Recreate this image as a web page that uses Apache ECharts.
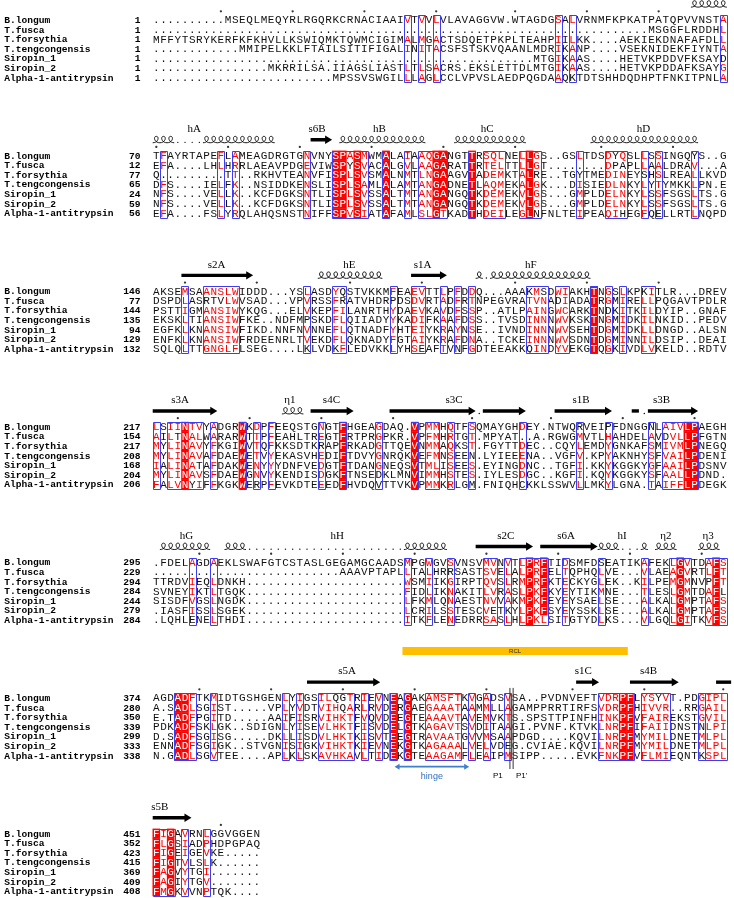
<!DOCTYPE html>
<html><head><meta charset="utf-8">
<script src="https://cdn.jsdelivr.net/npm/echarts@6/dist/echarts.min.js"></script>
<style>html,body{margin:0;padding:0;background:#fff}#c{width:734px;height:898px}</style>
</head><body><div id="c"></div>
<script>
// ---------------- DATA ----------------
const seqNames = ['B.longum','T.fusca','T.forsythia','T.tengcongensis','Siropin_1','Siropin_2','Alpha-1-antitrypsin'];

const startNum1 = [1,1,1,1,1,1,1];
const seqBlock1 = [
'..........MSEQLMEQYRLRGQRKCRNACIAAIVTVVLVLAVAGGVW.WTAGDGSALVRNMFKPKATPATQPVVNSTA',
'..........'+'..........'+'..........'+'..........'+'..........'+'..........'+'.........'+'MSGGFLRDDHL',
'MFFYTSRYKERFKFKHVLLKSWIQMKTQWMCIGIMALMGACTSDQETPKPLTEAHPIILKK....AEKIEKDNAFAFDLL',
'..........'+'..'+'MMIPELKKLFTAILSITIFIGALINITACSFSTSKVQAANLMDRIKANP....VSEKNIDEKFIYNTA',
'..........'+'..........'+'..........'+'..........'+'..........'+'...'+'MTGIKAAS....HETVKPDDVFKSAYD',
'..........'+'......'+'MKRRILSA.IIAGSLIASTLTLSACRS.EKSLETTDLMTGIKAAS....HETVKPDDAFKSAYG',
'..........'+'..........'+'.....'+'MPSSVSWGILLLAGLCCLVPVSLAEDPQGDAAQKTDTSHHDQDHPTFNKITPNLA'
];
const boxRuns1 = [[35,35],[37,37],[39,39],[56,56],[58,58],[79,79]];
const partialRed1 = [];
const ssElems1 = [['h',75,79]];
const ssLabels1 = [];

const startNum2 = [70,12,77,65,24,59,56];
const seqBlock2 = [
'TFAYRTAPEFLAMEAGDRGTGNVNYSPASMWMALAIAAQGANGTTRSQLNELLGS..GSLTDSDYQSLLSSINGQYS..G',
'EFA....LHLHRRLAEAVPDGEVIWSPYSVACALGVLAAGARATTRTELTTLLGT........DPAPLLAALDRAV...A',
'Q.........TT..RKHVTEANVFISPLSVSMALNMTLNGAAGVTADEMKTALRE..TGYTMEDINEYSHSLREALLKVD',
'DFS....IELFK..NSIDDKENSLISPLSAMLALAMTANGADNETLAQMEKALGK...DISIEDLNKYLYTYMKKLPN.E',
'NFS....VELLK..KCFDGKSNTLISPLSVSSALTMTANGANGQTKDEMEKVLGS...GMPLDELNKYLSSFSGSLTS.G',
'NFS....VELLK..KCFDGKSNTLISPLSVSSALTMTANGANGQTKDEMEKVLGS...GMPLDELNKYLSSFSGSLTS.G',
'EFA....FSLYRQLAHQSNSTNIFFSPVSIATAFAMLSLGTKADTHDEILEGLNFNLTEIPEAQIHEGFQELLRTLNQPD'
];
const boxRuns2 = [[1,1],[9,9],[11,11],[21,21],[25,29],[32,32],[35,35],[37,40],[44,44],[46,48],[51,53],[59,59],[63,65],[68,68],[70,70],[75,75]];
const partialRed2 = [40];
const ssElems2 = [['h',0,2],['d',3,6],['h',7,16],['e',22,24],['h',26,37],['h',42,51],['h',61,75]];
const ssLabels2 = [['hA',5.3],['s6B',22.4],['hB',31.1],['hC',46.1],['hD',67.9]];

const startNum3 = [146,77,144,135,94,129,132];
const seqBlock3 = [
'AKSEMSAANSLWIDDD...YSLASDYQSTVKKMFEAEVTTLPFDDQ...AAAKMSDWIAKHTNGSLKPKITLR...DREV',
'DSPDLASRTVLWVSAD...VPVRSSFRATVHDRPDSDVRTADFRTNPEGVRATVNADIADATRGMIRELLPQGAVTPDLR',
'PSTTIGMANSIWYKQG...ELVKEPFILANRTHYDAEVKAVDFSSP..ATLPAINGWCARKTNDKITKILDYIP..GNAF',
'EKSKLTIANSIWFKE..NDFMPSKDFLQIIADYYKADIFKAAFDSS..TVSDINNNWVKSKTNGMIDKILNKID..PEDV',
'EGFKLKNANSIWFIKD.NNFNVNNEFLQTNADFYHTEIYKRAYNSE..IVNDINNNWVSEHTDGMIDKLLDNGD..ALSN',
'ENFKLKNANSIWFRDEENRLTVEKDFLQKNADYFGTAIYKRAFDNA..TCKEINNNWVSDNTDGMINNILDSIP..DEAI',
'SQLQLTTGNGLFLSEG....LKLVDKFLEDVKKLYHSEAFTVNFGDTEEAKKQINDYVEKGTQGKIVDLVKELD..RDTV'
];
const boxRuns3 = [[4,4],[7,11],[21,21],[25,26],[33,33],[36,37],[40,40],[42,42],[44,44],[52,54],[56,57],[61,61],[63,63],[65,65],[68,69]];
const partialRed3 = [];
const ssElems3 = [['e',4,13],['h',23,31],['e',36,40],['h',45,45],['d',46,46],['h',47,60]];
const ssLabels3 = [['s2A',8.4],['hE',26.9],['s1A',37.1],['hF',52.2]];

const startNum4 = [217,154,217,208,168,204,206];
const seqBlock4 = [
'LSIINTVYADGRWKDPFEEQSTGNGTFHGEAGDAQ.VPMMHQTFSQMAYGHDEY.NTWQRVEIPFDNGGNLAIVLPAEGH',
'AILTNALWARARWTTPFEAHLTREGTFRTPRGPKR.VPFMHRTGT.MPYAT..A.RGWGMVTLHAHDELAVDVLLPFGTN',
'MYLINAVYFKGIWVTQFKKSDTKRAPFRKADGTTQEVNMMAQKST.FGYTTDEC..CQYLEMDYGNKAFSMIVMLPNEGQ',
'MYLINAVAFDAEWETVYEKASVHEDIFTDVYGNRQKVEFMNSEEN.LYIEEENA..VGFV.KPYAKNHYSFVAILPDENI',
'IALINATAFDAKWENYYYDNFVEDGTFTDANGNEQSVTMLISEES.EYINGDNC..TGFI.KKYKGGKYGFAAILPDSNV',
'MYLINAVSFDAEWGNVYKENDISDGKFTNSEDKLMNVIMMHSTES.IYLESDGC..KGFI.KQYKGGKYSFAALLPDND.',
'FALVNYIFFKGKWERPFEVKDTEEEDFHVDQVTTVKVPMMKRLGM.FNIQHCKKLSSWVLLMKYLGNA.TAIFFLPDEGK'
];
const boxRuns4 = [[0,0],[2,6],[8,8],[12,12],[14,14],[16,16],[23,23],[26,26],[31,31],[36,36],[38,39],[41,41],[44,44],[51,51],[59,59],[63,63],[69,69],[71,75]];
const partialRed4 = [];
const ssElems4 = [['e',0,8],['h',18,20],['e',22,27],['e',33,44],['d',45,45],['e',46,51],['e',56,63],['b',66.75,66.75],['d',68,68],['e',69,75]];
const ssLabels4 = [['s3A',3.3],['η1',18.6],['s4C',24.4],['s3C',41.5],['s1B',59.2],['s3B',70.4]];

const startNum5 = [295,229,294,284,244,279,284];
const seqBlock5 = [
'.FDELAGDAEKLSWAFGTCSTASLGEGAMGCAADSMPGWGVSVNSVMVNVTLPRFTIDSMFDSEATIKAFEKLGVTDAFS',
'..........'+'..........'+'......'+'AAAVPTAPLLTALHRRSASTSVELALPRFELTQPHQLVE...VLAEAGVRTLFT',
'TTRDVIEQLDNKH'+'..........'+'..........'+'..'+'WSMIIKGIRPTQVSLRMPRFKTECKYGLEK..KILPEMGMNVPFT',
'SVNEYIKTLTGQK'+'..........'+'..........'+'..'+'FIDLIKNAKITLVRASLPKFKYEYTIKMNE...TLESLGMTDAFL',
'SISDFVGSLNGDK'+'..........'+'..........'+'..'+'LFKMLQNAESTNVVAKMPKFEYEYSAELSE...ALKALGMPTAFS',
'.IASFISSLSGEK'+'..........'+'..........'+'..'+'LCRILSSTESCVETKYLPKFSYEYSSKLSE...ALKALGMPTAFS',
'.LQHLENELTHDI'+'..........'+'..........'+'..'+'ITKFLENEDRRSASLHLPKLSITGTYDLKS...VLGQLGITKVFS'
];
const boxRuns5 = [[5,5],[8,8],[35,35],[38,38],[41,41],[46,47],[49,49],[51,54],[57,57],[62,62],[68,68],[72,74],[77,79]];
const partialRed5 = [54];
const ssElems5 = [['h',1,7],['h',10,12],['d',13,34],['h',35,40],['e',45,52],['e',54,61],['h',62,64],['d',65,67],['h',68,68],['h',70,72],['h',76,78]];
const ssLabels5 = [['hG',4.2],['hH',25.2],['s2C',48.7],['s6A',57.1],['hI',64.9],['η2',71.0],['η3',76.9]];

const startNum6 = [374,280,350,339,299,333,338];
const seqBlock6 = [
'AGDADFTKMIDTGSHGENLYIGSILQGTRIEVNEAGAKAMSFTKVGADSVSA..PVDNVEFTVDRPFLYSYVT.PDGIPL',
'A.SADLSGIST.....VPLYVDTVIHQARLRVDERGAEGAAATAAMMLLAGAMPPRRTIRFSVDRPFHIVVR..RRGAIL',
'E.TADFPGITD.....AAIFISRVIHKTFVQVDEEGTEAAAVTAVEMVKTS.SPSTTPINFHINKPFVFAIREKSTGVIL',
'PDKADFSKLGK..SDIGNLYISEVLHKTFISVDELGTKAGAVTSVDITAAGI.PVNF.KTVKLNRPFIFAIIDNSTNLPI',
'D.SADFSGISG.....DKLLISDVLHKTKISVTEEGTRAVAATGVVMSAAPDGD....KQVILNRPFMYMILDNETMLPL',
'ENNADFSGIGK..STVGNISIGKVIHKTKIEVNEKGTKAGAAALVELVDEG.CVIAE.KQVILNRPFMYMILDNETMLPL',
'N.GADLSGVTEE....APLKLSKAVHKAVLTIDEKGTEAAGAMFLEAIPMSIPP.....EVKFNKPFVFLMIEQNTKSPL'
];
const boxRuns6 = [[3,5],[8,8],[18,18],[20,20],[23,27],[29,29],[31,31],[33,33],[35,35],[38,42],[44,44],[46,46],[49,49],[62,66],[68,71],[76,76],[77,79]];
const partialRed6 = [];
const ssElems6 = [['e',21.5,30.7],['e',59,61.2],['e',66.5,72.3],['b',78.5,79.6]];
const ssLabels6 = [['s5A',26.6],['s1C',59.5],['s4B',68.6]];

const startNum7 = [451,352,423,415,369,409,408];
const seqBlock7 = [
'FIGAVRNLGGVGGEN',
'FLGSIADPHDPGPAQ',
'FIGEIGEVKE.....',
'FIGTVLSLK......',
'FAGVYTGI.......',
'FAGIYTGV.......',
'FMGKVVNPTQK....'
];
const boxRuns7 = [[0,2],[4,4],[7,7]];
const partialRed7 = [];
const ssElems7 = [['e',0,4.4]];
const ssLabels7 = [['s5B',0.5]];

// annotations of block 6 (reactive centre loop)
const rclSpan = [34.3, 65.7];
const hingeSpan = [33.2, 43.6];
const scissileBoundary = 49.5;

// ---------------- LAYOUT ----------------
const blocks = [
 {starts:startNum1, seqs:seqBlock1, boxes:boxRuns1, partial:partialRed1, ss:ssElems1, labels:ssLabels1},
 {starts:startNum2, seqs:seqBlock2, boxes:boxRuns2, partial:partialRed2, ss:ssElems2, labels:ssLabels2},
 {starts:startNum3, seqs:seqBlock3, boxes:boxRuns3, partial:partialRed3, ss:ssElems3, labels:ssLabels3},
 {starts:startNum4, seqs:seqBlock4, boxes:boxRuns4, partial:partialRed4, ss:ssElems4, labels:ssLabels4},
 {starts:startNum5, seqs:seqBlock5, boxes:boxRuns5, partial:partialRed5, ss:ssElems5, labels:ssLabels5},
 {starts:startNum6, seqs:seqBlock6, boxes:boxRuns6, partial:partialRed6, ss:ssElems6, labels:ssLabels6},
 {starts:startNum7, seqs:seqBlock7, boxes:boxRuns7, partial:partialRed7, ss:ssElems7, labels:ssLabels7}
];

const COLW = 7.19, ROWH = 9.6, X0 = 156.6;
const xMin = -21.5, xMax = 80.5;
const yMax = 898 / ROWH;
const RED = '#ff0000', BLUE = '#3c3cf2';
const SEQ_FONT = '11px "Liberation Mono", monospace';
const NAME_FONT = 'bold 9.6px "Liberation Mono", monospace';
const LAB_FONT = '11px "Liberation Serif", serif';
function blockBase(b){ return (20 + b * 135.6) / ROWH; }

const simGroups = ['AVLIMFC','FYWH','KRH','DENQ','STAG','P'];
function simCount(ch, res){
  let m = 1;
  simGroups.forEach(g => { if (g.indexOf(ch) >= 0) { const n = res.filter(x => g.indexOf(x) >= 0).length; if (n > m) m = n; } });
  return m;
}

const cells = [], frames = [], nameItems = [], ssItems = [], labItems = [], numDots = [];
blocks.forEach((blk, b) => {
  const base = blockBase(b);
  const L = blk.seqs[0].length;
  blk.seqs.forEach((s, r) => { if (s.length !== L) throw new Error('length block ' + (b+1) + ' row ' + r + ' = ' + s.length); });
  const inBox = new Array(L).fill(false);
  blk.boxes.forEach(([a, z]) => { for (let c = a; c <= z; c++) inBox[c] = true; frames.push([a - 0.5, base - 0.5, z + 0.5, base + 6.5]); });
  for (let c = 0; c < L; c++) {
    const col = blk.seqs.map(s => s[c]);
    const res = col.filter(ch => ch !== '.');
    const ident = res.length === col.length && res.every(ch => ch === res[0]);
    const part = blk.partial.indexOf(c) >= 0;
    const cnt = {}; let modal = null, best = 0;
    res.forEach(ch => { cnt[ch] = (cnt[ch] || 0) + 1; if (cnt[ch] > best) { best = cnt[ch]; modal = ch; } });
    col.forEach((ch, r) => {
      let kind = 0;
      if (ch !== '.') {
        if (ident || (part && ch === modal)) kind = 2;
        else if (inBox[c] || part) kind = simCount(ch, res) >= 2 ? 1 : 0;
      }
      cells.push({c: c, y: base + r, ch: ch, kind: kind});
    });
  }
  // residue numbering dots from the first sequence
  const top = blk.seqs[0];
  const first = top.search(/[^.]/);
  let n = blk.starts[0] - 1;
  for (let c = 0; c < L; c++) {
    if (top[c] !== '.') { n++; if (n % 10 === 0) numDots.push([c, base - 0.9]); }
    else if (c < first) { const v = blk.starts[0] - (first - c); if (v >= 0 && v % 10 === 0) numDots.push([c, base - 0.9]); }
  }
  seqNames.forEach((nm, r) => nameItems.push({name: nm, num: String(blk.starts[r]), y: base + r}));
  blk.ss.forEach(e => ssItems.push({t: e[0], c0: e[1], c1: e[2], y: base - 1.65}));
  blk.labels.forEach(l => labItems.push({text: l[0], c: l[1], y: base - 2.75}));
});
const b6 = blockBase(5);

const TXT = (text, fill, font, align) => ({text: text, fill: fill, font: font, align: align, verticalAlign: 'middle', textAlign: align, textVerticalAlign: 'middle'});

const option = {
  animation: false,
  backgroundColor: '#fff',
  grid: {left: X0 + xMin * COLW, top: 0, width: (xMax - xMin) * COLW, height: 898, containLabel: false},
  xAxis: {type: 'value', min: xMin, max: xMax, show: false},
  yAxis: {type: 'value', min: 0, max: yMax, inverse: true, show: false},
  series: [
    { // residues
      type: 'custom', coordinateSystem: 'cartesian2d', clip: false, silent: true, z: 2, progressive: 0,
      data: cells.map(d => [d.c, d.y]),
      renderItem: function (params, api) {
        const d = cells[params.dataIndex];
        const p = api.coord([d.c, d.y]);
        const s = api.size([1, 1]);
        const kids = [];
        if (d.kind === 2) kids.push({type: 'rect', shape: {x: p[0] - s[0] / 2 - 0.2, y: p[1] - s[1] / 2 - 0.2, width: s[0] + 0.4, height: s[1] + 0.4}, style: {fill: RED}});
        kids.push({type: 'text', x: p[0], y: p[1] + 0.5, style: TXT(d.ch, d.kind === 2 ? '#fff' : (d.kind === 1 ? RED : '#111'), SEQ_FONT, 'center')});
        return {type: 'group', children: kids};
      }
    },
    { // similarity frames
      type: 'custom', coordinateSystem: 'cartesian2d', clip: false, silent: true, z: 3, progressive: 0,
      data: frames,
      renderItem: function (params, api) {
        const p1 = api.coord([api.value(0), api.value(1)]);
        const p2 = api.coord([api.value(2), api.value(3)]);
        return {type: 'rect', shape: {x: Math.round(p1[0]) + 0.5, y: Math.round(p1[1]) + 0.5, width: Math.round(p2[0] - p1[0]), height: Math.round(p2[1] - p1[1])}, style: {fill: 'none', stroke: BLUE, lineWidth: 1}};
      }
    },
    { // names and numbers
      type: 'custom', coordinateSystem: 'cartesian2d', clip: false, silent: true, z: 2, progressive: 0,
      data: nameItems.map(o => [xMin, o.y]),
      renderItem: function (params, api) {
        const o = nameItems[params.dataIndex];
        const pn = api.coord([-21.2, o.y]);
        const pr = api.coord([-2.2, o.y]);
        return {type: 'group', children: [
          {type: 'text', x: pn[0], y: pn[1] + 0.5, style: TXT(o.name, '#000', NAME_FONT, 'left')},
          {type: 'text', x: pr[0], y: pr[1] + 0.5, style: TXT(o.num, '#000', NAME_FONT, 'right')}
        ]};
      }
    },
    { // numbering dots
      type: 'scatter', data: numDots, symbol: 'circle', symbolSize: 2.3, silent: true,
      itemStyle: {color: '#000'}, z: 2
    },
    { // secondary structure
      type: 'custom', coordinateSystem: 'cartesian2d', clip: false, silent: true, z: 2, progressive: 0,
      data: ssItems.map(o => [o.c0, o.y]),
      renderItem: function (params, api) {
        const o = ssItems[params.dataIndex];
        const xl = api.coord([o.c0 - 0.5, o.y])[0];
        const xr = api.coord([o.c1 + 0.5, o.y])[0];
        const yc = api.coord([o.c0, o.y])[1];
        const w = api.size([1, 1])[0];
        if (o.t === 'e') {
          const hl = 7, sh = 1.7, hh = 4.2;
          return {type: 'polygon', shape: {points: [[xl, yc - sh], [xr - hl, yc - sh], [xr - hl, yc - hh], [xr, yc], [xr - hl, yc + hh], [xr - hl, yc + sh], [xl, yc + sh]]}, style: {fill: '#000'}};
        }
        if (o.t === 'b') {
          return {type: 'rect', shape: {x: xl, y: yc - 1.7, width: xr - xl, height: 3.4}, style: {fill: '#000'}};
        }
        if (o.t === 'd') {
          const kids = [];
          for (let c = o.c0; c <= o.c1; c++) { const p = api.coord([c, o.y]); kids.push({type: 'circle', shape: {cx: p[0], cy: yc + 2.6, r: 0.7}, style: {fill: '#000'}}); }
          return {type: 'group', children: kids};
        }
        // helix loops
        const yb = yc + 3, yt = yc - 3.4;
        let d = 'M' + xl + ',' + yb;
        for (let c = o.c0; c <= o.c1; c++) {
          const x = api.coord([c - 0.5, o.y])[0];
          d += ' C' + (x + 0.8 * w) + ',' + yb + ' ' + (x + 0.95 * w) + ',' + yt + ' ' + (x + 0.5 * w) + ',' + yt +
               ' C' + (x + 0.05 * w) + ',' + yt + ' ' + (x + 0.2 * w) + ',' + yb + ' ' + (x + w) + ',' + yb;
        }
        return {type: 'path', shape: {pathData: d}, style: {fill: 'none', stroke: '#000', lineWidth: 0.9}};
      }
    },
    { // secondary structure labels
      type: 'custom', coordinateSystem: 'cartesian2d', clip: false, silent: true, z: 2, progressive: 0,
      data: labItems.map(o => [o.c, o.y]),
      renderItem: function (params, api) {
        const o = labItems[params.dataIndex];
        const p = api.coord([o.c, o.y]);
        return {type: 'text', x: p[0], y: p[1], style: TXT(o.text, '#000', LAB_FONT, 'center')};
      }
    },
    { // RCL, scissile bond, hinge
      type: 'custom', coordinateSystem: 'cartesian2d', clip: false, silent: true, z: 4, progressive: 0,
      data: [[rclSpan[0], b6]],
      renderItem: function (params, api) {
        const r0 = api.coord([rclSpan[0], b6 - 4.9]), r1 = api.coord([rclSpan[1], b6 - 4.9]);
        const rm = api.coord([(rclSpan[0] + rclSpan[1]) / 2, b6 - 4.9]);
        const vx = api.coord([scissileBoundary, b6])[0];
        const vTop = api.coord([0, b6 - 1.05])[1], vBot = api.coord([0, b6 + 7.4])[1];
        const h0 = api.coord([hingeSpan[0], b6 + 7.15]), h1 = api.coord([hingeSpan[1], b6 + 7.15]);
        const ty = api.coord([0, b6 + 8.15])[1];
        const hm = (h0[0] + h1[0]) / 2;
        const HB = '#3f7fd0';
        return {type: 'group', children: [
          {type: 'rect', shape: {x: r0[0], y: r0[1] - 4, width: r1[0] - r0[0], height: 8}, style: {fill: '#ffbf00'}},
          {type: 'text', x: rm[0], y: rm[1] + 0.3, style: TXT('RCL', '#222', '6px "Liberation Sans", sans-serif', 'center')},
          {type: 'line', shape: {x1: vx - 1.6, y1: vTop, x2: vx - 1.6, y2: vBot}, style: {stroke: '#333', lineWidth: 1}},
          {type: 'line', shape: {x1: vx + 1.6, y1: vTop, x2: vx + 1.6, y2: vBot}, style: {stroke: '#333', lineWidth: 1}},
          {type: 'line', shape: {x1: h0[0] + 4, y1: h0[1], x2: h1[0] - 4, y2: h1[1]}, style: {stroke: HB, lineWidth: 1.6}},
          {type: 'polygon', shape: {points: [[h0[0], h0[1]], [h0[0] + 5, h0[1] - 3], [h0[0] + 5, h0[1] + 3]]}, style: {fill: HB}},
          {type: 'polygon', shape: {points: [[h1[0], h1[1]], [h1[0] - 5, h1[1] - 3], [h1[0] - 5, h1[1] + 3]]}, style: {fill: HB}},
          {type: 'text', x: hm, y: ty, style: TXT('hinge', '#2f6fc0', '9px "Liberation Sans", sans-serif', 'center')},
          {type: 'text', x: api.coord([47.6, 0])[0], y: ty, style: TXT('P1', '#000', '8px "Liberation Sans", sans-serif', 'center')},
          {type: 'text', x: api.coord([50.9, 0])[0], y: ty, style: TXT("P1'", '#000', '8px "Liberation Sans", sans-serif', 'center')}
        ]};
      }
    }
  ]
};
const chart = echarts.init(document.getElementById('c'), null, {renderer: 'canvas', width: 734, height: 898});
chart.setOption(option);
</script></body></html>
